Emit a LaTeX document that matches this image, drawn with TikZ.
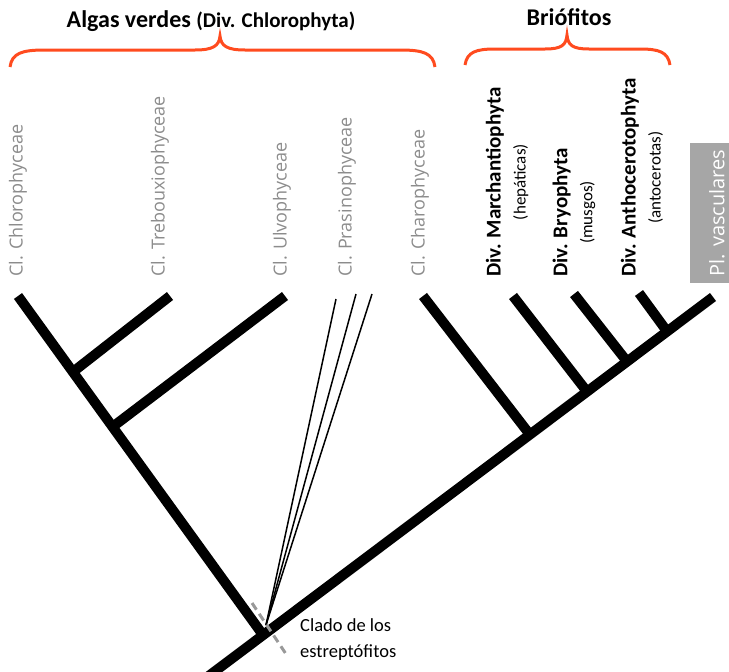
\documentclass[tikz,border=0pt]{standalone}
\usepackage{fontspec}
\setmainfont{Carlito}
\newfontfamily\labelfont{Open Sans}
\usetikzlibrary{calc, positioning}
\definecolor{braceOrange}{HTML}{FF4B1F}
\definecolor{labelGray}{HTML}{8C8C8C}
\definecolor{boxGray}{HTML}{A6A6A6}
\definecolor{cutGray}{HTML}{999999}
\newcommand{\subname}[1]{{\mdseries\fontsize{17}{20}\selectfont #1}}

\begin{document}
\begin{tikzpicture}[
    x=1pt, y=-1pt,
    branch/.style={line width=10pt, draw=black},
    thin_branch/.style={line width=1.5pt, draw=black},
    class_label/.style={rotate=90, anchor=west, inner sep=0pt, text=labelGray, font=\labelfont\fontsize{18}{22}\selectfont},
    div_label/.style={rotate=90, anchor=west, inner sep=0pt, align=center, font=\bfseries\fontsize{21}{25}\selectfont},
    group_title/.style={anchor=base, inner sep=0pt, font=\bfseries\fontsize{24}{28}\selectfont},
    brace_line/.style={draw=braceOrange, line width=3pt},
    cut_line/.style={draw=cutGray, line width=3pt, dash pattern=on 8pt off 5pt},
    vasc_box/.style={rotate=90, fill=boxGray, text=white, inner sep=0pt, minimum width=140pt, minimum height=54pt, font=\labelfont\fontsize{20}{24}\selectfont},
]
\clip (0,0) rectangle (729,672);

% ====== GROUP TITLES & BRACES ======
\node[group_title] (title_algas) at (211,27) {Algas verdes {\fontsize{21}{25}\selectfont(Div. Chlorophyta)}};
\node[group_title] (title_brio) at (569,25) {Briófitos};

\draw[brace_line] (10,67) .. controls (12,53) and (22,50) .. (45,50) -- (195,50)
    .. controls (213,50) and (219,46) .. (220,36) .. controls (221,46) and (227,50) .. (245,50)
    -- (400,50) .. controls (423,50) and (433,53) .. (435,67);
\draw[brace_line] (465,65) .. controls (467,52) and (476,49) .. (495,49) -- (545,49)
    .. controls (562,49) and (566,45) .. (567,35) .. controls (568,45) and (572,49) .. (589,49)
    -- (640,49) .. controls (659,49) and (668,52) .. (670,65);

% ====== TAXON LABELS ======
\node[class_label] (lbl_chloro) at (18,277) {Cl. Chlorophyceae};
\node[class_label] (lbl_treb) at (160,277) {Cl. Trebouxiophyceae};
\node[class_label] (lbl_ulvo) at (282,277) {Cl. Ulvophyceae};
\node[class_label] (lbl_prasino) at (347,277) {Cl. Prasinophyceae};
\node[class_label] (lbl_charo) at (420,277) {Cl. Charophyceae};

\node[div_label] (lbl_march) at (507,277) {Div. Marchantiophyta\\\subname{(hepáticas)}};
\node[div_label] (lbl_bryo) at (574,277) {Div. Bryophyta\\\subname{(musgos)}};
\node[div_label] (lbl_antho) at (642,277) {Div. Anthocerotophyta\\\subname{(antocerotas)}};

\node[vasc_box] (lbl_vasc) at (717,213) {Pl. vasculares};

% ====== TREE ======
\coordinate (root) at (206,678);
\coordinate (j_stem) at (263,635);
\coordinate (tip_vasc) at (713,297);
\coordinate (tip_chloro) at (18,296);
\coordinate (tip_treb) at (170,296);
\coordinate (tip_ulvo) at (285,296);
\coordinate (tip_charo) at (423,296);
\coordinate (tip_march) at (513,296);
\coordinate (tip_bryo) at (574,294);
\coordinate (tip_antho) at (639,293);

\coordinate (j_treb) at ($(j_stem)!0.776!(tip_chloro)$);
\coordinate (j_ulvo) at ($(j_stem)!0.614!(tip_chloro)$);
\coordinate (j_charo) at ($(j_stem)!0.593!(tip_vasc)$);
\coordinate (j_march) at ($(j_stem)!0.72!(tip_vasc)$);
\coordinate (j_bryo) at ($(j_stem)!0.809!(tip_vasc)$);
\coordinate (j_antho) at ($(j_stem)!0.898!(tip_vasc)$);

\draw[branch] (root) -- (tip_vasc);
\draw[branch] (j_stem) -- (tip_chloro);
\draw[branch] (j_treb) -- (tip_treb);
\draw[branch] (j_ulvo) -- (tip_ulvo);
\draw[branch] (j_charo) -- (tip_charo);
\draw[branch] (j_march) -- (tip_march);
\draw[branch] (j_bryo) -- (tip_bryo);
\draw[branch] (j_antho) -- (tip_antho);

% prasinophyceae fan
\coordinate (prasino_base) at (266,625);
\coordinate (tip_prasino1) at (336,299);
\coordinate (tip_prasino2) at (356,294);
\coordinate (tip_prasino3) at (372,294);
\draw[thin_branch] (prasino_base) -- (tip_prasino1);
\draw[thin_branch] (prasino_base) -- (tip_prasino2);
\draw[thin_branch] (prasino_base) -- (tip_prasino3);

% streptophyte cut
\coordinate (cut_top) at (252,603);
\coordinate (cut_bot) at (288,657);
\draw[cut_line] (cut_top) -- (cut_bot);
\node[anchor=west, align=left, inner sep=0pt, font=\fontsize{18.5}{26}\selectfont] (lbl_clado) at (300,640) {Clado de los\\estreptófitos};

\end{tikzpicture}
\end{document}
